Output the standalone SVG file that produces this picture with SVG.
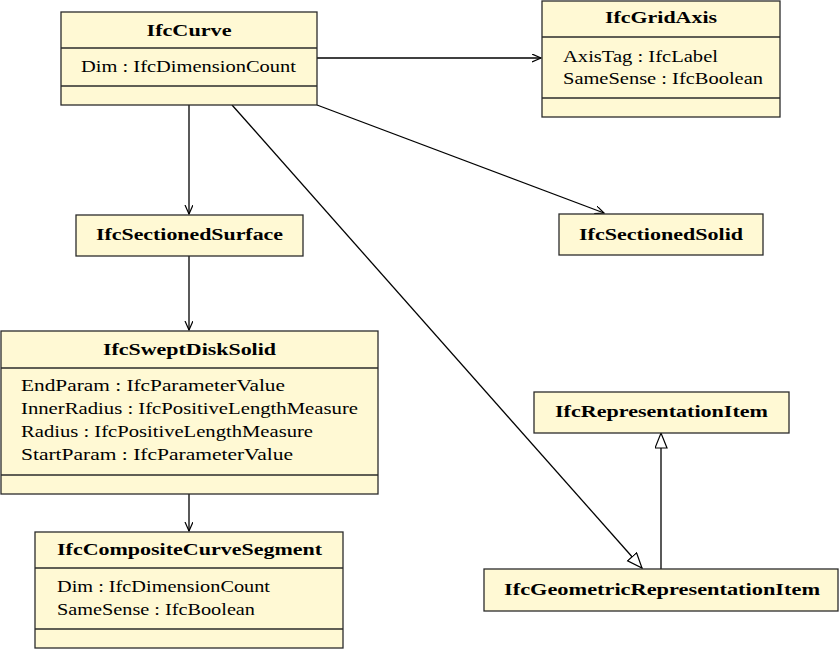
<svg xmlns="http://www.w3.org/2000/svg" width="840" height="649" viewBox="0 0 840 649">
<style>
.box{fill:#fff9d4;stroke:#2b2b2b;stroke-width:1.3}
.div{stroke:#2b2b2b;stroke-width:1.3}
.t{font-family:"Liberation Serif","Times New Roman",serif;font-size:17px;font-weight:bold;fill:#000}
.a{font-family:"Liberation Serif","Times New Roman",serif;font-size:17px;fill:#000}
.c{fill:none;stroke:#000;stroke-width:1.3}
</style>
<defs>
<marker id="open" markerUnits="userSpaceOnUse" markerWidth="12" markerHeight="10" refX="9" refY="4" orient="auto">
<path d="M0,0 L9,4 L0,8" fill="none" stroke="#000" stroke-width="1.2"/>
</marker>
<marker id="tri" markerUnits="userSpaceOnUse" markerWidth="18" markerHeight="14" refX="15.5" refY="6.5" orient="auto">
<path d="M0.5,0.5 L15.5,6.5 L0.5,12.5 Z" fill="#fff" stroke="#000" stroke-width="1.2"/>
</marker>
</defs>
<g id="connectors">
<line class="c" x1="317" y1="58" x2="541" y2="58" marker-end="url(#open)"/>
<line class="c" x1="189" y1="105" x2="189" y2="214" marker-end="url(#open)"/>
<line class="c" x1="317" y1="105" x2="604" y2="213" marker-end="url(#open)"/>
<line class="c" x1="232" y1="105" x2="642" y2="568" marker-end="url(#tri)"/>
<line class="c" x1="189" y1="256" x2="189" y2="330" marker-end="url(#open)"/>
<line class="c" x1="189" y1="494" x2="189" y2="531" marker-end="url(#open)"/>
<line class="c" x1="661" y1="569" x2="661" y2="433" marker-end="url(#tri)"/>
</g>
<g id="IfcCurve">
<rect class="box" x="61" y="12" width="256" height="93"/>
<line class="div" x1="61" y1="48" x2="317" y2="48"/>
<line class="div" x1="61" y1="86" x2="317" y2="86"/>
<text class="t" x="189" y="36" text-anchor="middle" textLength="85" lengthAdjust="spacingAndGlyphs">IfcCurve</text>
<text class="a" x="81" y="72" textLength="215" lengthAdjust="spacingAndGlyphs">Dim : IfcDimensionCount</text>
</g>
<g id="IfcGridAxis">
<rect class="box" x="542" y="1" width="238" height="116"/>
<line class="div" x1="542" y1="37" x2="780" y2="37"/>
<line class="div" x1="542" y1="98" x2="780" y2="98"/>
<text class="t" x="661" y="23" text-anchor="middle" textLength="112" lengthAdjust="spacingAndGlyphs">IfcGridAxis</text>
<text class="a" x="563" y="62" textLength="155" lengthAdjust="spacingAndGlyphs">AxisTag : IfcLabel</text>
<text class="a" x="563" y="84" textLength="200" lengthAdjust="spacingAndGlyphs">SameSense : IfcBoolean</text>
</g>
<g id="IfcSectionedSurface">
<rect class="box" x="76" y="215" width="227" height="41"/>
<text class="t" x="189.5" y="240" text-anchor="middle" textLength="187" lengthAdjust="spacingAndGlyphs">IfcSectionedSurface</text>
</g>
<g id="IfcSectionedSolid">
<rect class="box" x="559" y="214" width="204" height="41"/>
<text class="t" x="661" y="240" text-anchor="middle" textLength="164" lengthAdjust="spacingAndGlyphs">IfcSectionedSolid</text>
</g>
<g id="IfcSweptDiskSolid">
<rect class="box" x="1" y="331" width="377" height="163"/>
<line class="div" x1="1" y1="368" x2="378" y2="368"/>
<line class="div" x1="1" y1="475" x2="378" y2="475"/>
<text class="t" x="189.5" y="355" text-anchor="middle" textLength="173" lengthAdjust="spacingAndGlyphs">IfcSweptDiskSolid</text>
<text class="a" x="21" y="391" textLength="264" lengthAdjust="spacingAndGlyphs">EndParam : IfcParameterValue</text>
<text class="a" x="21" y="414" textLength="337" lengthAdjust="spacingAndGlyphs">InnerRadius : IfcPositiveLengthMeasure</text>
<text class="a" x="21" y="437" textLength="292" lengthAdjust="spacingAndGlyphs">Radius : IfcPositiveLengthMeasure</text>
<text class="a" x="21" y="460" textLength="272" lengthAdjust="spacingAndGlyphs">StartParam : IfcParameterValue</text>
</g>
<g id="IfcCompositeCurveSegment">
<rect class="box" x="35" y="532" width="308" height="116"/>
<line class="div" x1="35" y1="568" x2="343" y2="568"/>
<line class="div" x1="35" y1="629" x2="343" y2="629"/>
<text class="t" x="189.5" y="555" text-anchor="middle" textLength="265" lengthAdjust="spacingAndGlyphs">IfcCompositeCurveSegment</text>
<text class="a" x="57" y="592" textLength="213" lengthAdjust="spacingAndGlyphs">Dim : IfcDimensionCount</text>
<text class="a" x="57" y="615" textLength="198" lengthAdjust="spacingAndGlyphs">SameSense : IfcBoolean</text>
</g>
<g id="IfcRepresentationItem">
<rect class="box" x="534" y="392" width="255" height="41"/>
<text class="t" x="661.5" y="417" text-anchor="middle" textLength="213" lengthAdjust="spacingAndGlyphs">IfcRepresentationItem</text>
</g>
<g id="IfcGeometricRepresentationItem">
<rect class="box" x="484" y="569" width="354" height="42"/>
<text class="t" x="662" y="595" text-anchor="middle" textLength="316" lengthAdjust="spacingAndGlyphs">IfcGeometricRepresentationItem</text>
</g>
</svg>
